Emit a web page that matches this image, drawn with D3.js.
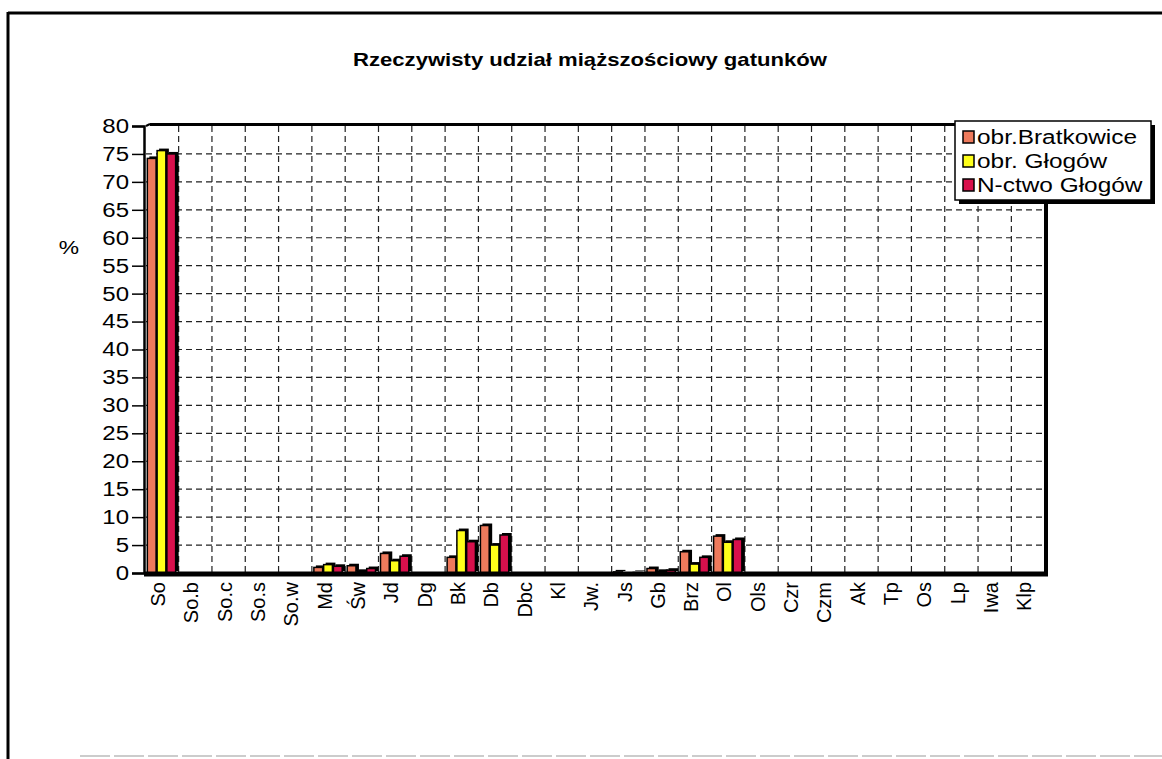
<!DOCTYPE html>
<html>
<head>
<meta charset="utf-8">
<script src="https://cdn.jsdelivr.net/npm/d3@7"></script>
<style>
  body { margin: 0; background: #fff; }
  text { font-family: "Liberation Sans", Arial, sans-serif; fill: #000; }
</style>
</head>
<body>
<script>
const width = 1162;
const height = 759;

const categories = ["So", "So.b", "So.c", "So.s", "So.w", "Md", "Św", "Jd", "Dg", "Bk", "Db", "Dbc",
    "Kl", "Jw.", "Js", "Gb", "Brz", "Ol", "Ols", "Czr", "Czm", "Ak", "Tp", "Os", "Lp", "Iwa", "Klp"];

const seriesNames = ["obr.Bratkowice", "obr. Głogów", "N-ctwo Głogów"];
const seriesColors = ["#ee7a5c", "#ffff1a", "#d8104c"];

const bratkowice = [74.2, 0, 0, 0, 0, 1.0, 1.3, 3.5, 0, 2.8, 8.5, 0, 0, 0, 0.2, 0.8, 3.8, 6.6, 0, 0, 0, 0, 0, 0, 0, 0, 0];
const glogow     = [75.6, 0, 0, 0, 0, 1.5, 0.3, 2.2, 0, 7.6, 5.0, 0, 0, 0, 0, 0.3, 1.6, 5.5, 0, 0, 0, 0, 0, 0, 0, 0, 0];
const nadlesn    = [75.0, 0, 0, 0, 0, 1.2, 0.8, 3.0, 0, 5.6, 6.8, 0, 0, 0, 0.1, 0.5, 2.8, 6.0, 0, 0, 0, 0, 0, 0, 0, 0, 0];
const series = [bratkowice, glogow, nadlesn];

const yTicks = d3.range(0, 81, 5);

const plot = { left: 146, right: 1044, top: 126, bottom: 573 };

// scanned original is a bit stretched sideways, so widen the text to match
function stretch(sel, k) {
    sel.each(function() {
        const len = this.getComputedTextLength();
        d3.select(this).attr("textLength", len * k).attr("lengthAdjust", "spacingAndGlyphs");
    });
}

const svg = d3.select("body").append("svg")
    .attr("width", width)
    .attr("height", height);

// outer frame
svg.append("line").attr("x1", 8).attr("y1", 13).attr("x2", width).attr("y2", 13)
    .attr("stroke", "#000").attr("stroke-width", 3);
svg.append("line").attr("x1", 8).attr("y1", 12).attr("x2", 8).attr("y2", height)
    .attr("stroke", "#000").attr("stroke-width", 3);
svg.append("line").attr("x1", 80).attr("y1", 756).attr("x2", width).attr("y2", 756)
    .attr("stroke", "#ccc").attr("stroke-width", 2).attr("stroke-dasharray", "30,4");

svg.append("text")
    .attr("x", 590).attr("y", 66)
    .attr("text-anchor", "middle")
    .attr("font-size", 19).attr("font-weight", "bold")
    .attr("textLength", 474).attr("lengthAdjust", "spacingAndGlyphs")
    .text("Rzeczywisty udział miąższościowy gatunków");

const x = d3.scaleBand()
    .domain(categories)
    .range([plot.left, plot.right])
    .paddingInner(0.12)
    .paddingOuter(0.04);

const xs = d3.scaleBand()
    .domain(d3.range(series.length))
    .range([0, x.bandwidth()])
    .padding(0);

const y = d3.scaleLinear()
    .domain([0, 80])
    .range([plot.bottom, plot.top]);

// plot background shadow (3D look)
svg.append("rect")
    .attr("x", plot.left + 4).attr("y", plot.top - 2)
    .attr("width", plot.right - plot.left).attr("height", plot.bottom - plot.top + 5)
    .attr("fill", "#000");
svg.append("rect")
    .attr("x", plot.left).attr("y", plot.top)
    .attr("width", plot.right - plot.left).attr("height", plot.bottom - plot.top)
    .attr("fill", "#fff");
svg.append("line")
    .attr("x1", plot.left + 4).attr("y1", plot.top - 2).attr("x2", plot.right + 2).attr("y2", plot.top - 2)
    .attr("stroke", "#000").attr("stroke-width", 2);
svg.append("line")
    .attr("x1", plot.left).attr("y1", plot.top).attr("x2", plot.left + 4).attr("y2", plot.top - 2)
    .attr("stroke", "#000").attr("stroke-width", 2);

// grid
const grid = svg.append("g")
    .attr("stroke", "#222").attr("stroke-width", 1.2).attr("stroke-dasharray", "6,4");
grid.selectAll("line.h")
    .data(yTicks.filter(d => d > 0 && d < 80))
    .enter().append("line")
    .attr("class", "h")
    .attr("x1", plot.left).attr("x2", plot.right)
    .attr("y1", d => y(d)).attr("y2", d => y(d));
grid.selectAll("line.v")
    .data(categories.slice(1))
    .enter().append("line")
    .attr("class", "v")
    .attr("x1", d => x(d) - x.step() * x.paddingInner() / 2)
    .attr("x2", d => x(d) - x.step() * x.paddingInner() / 2)
    .attr("y1", plot.top).attr("y2", plot.bottom);

// bars
const groups = svg.append("g")
    .selectAll("g")
    .data(categories)
    .enter().append("g")
    .attr("transform", d => `translate(${x(d)},0)`);

groups.each(function(cat, i) {
    const g = d3.select(this);
    series.forEach((s, k) => {
        const v = s[i];
        if (v <= 0) return;
        g.append("rect")
            .attr("x", xs(k) + 2).attr("y", y(v) - 2)
            .attr("width", xs.bandwidth()).attr("height", y(0) - y(v))
            .attr("fill", "#000");
    });
    series.forEach((s, k) => {
        const v = s[i];
        if (v <= 0) return;
        g.append("rect")
            .attr("x", xs(k)).attr("y", y(v))
            .attr("width", xs.bandwidth() - 1).attr("height", y(0) - y(v))
            .attr("fill", seriesColors[k])
            .attr("stroke", "#000").attr("stroke-width", 1.5);
    });
});

// floor
svg.append("line")
    .attr("x1", plot.left - 2).attr("x2", plot.right + 4)
    .attr("y1", plot.bottom + 1).attr("y2", plot.bottom + 1)
    .attr("stroke", "#000").attr("stroke-width", 5);
svg.append("line")
    .attr("x1", plot.right + 2).attr("x2", plot.right + 2)
    .attr("y1", plot.top - 2).attr("y2", plot.bottom)
    .attr("stroke", "#000").attr("stroke-width", 3);

// y axis
const yAxis = svg.append("g")
    .attr("transform", `translate(${plot.left - 2},0)`)
    .call(d3.axisLeft(y).tickValues(yTicks).tickSize(12).tickPadding(3));
yAxis.select(".domain").attr("stroke-width", 2.5);
yAxis.selectAll(".tick line").attr("stroke-width", 1.5);
yAxis.selectAll("text")
    .attr("font-size", 20)
    .attr("font-family", "Liberation Sans, Arial, sans-serif")
    .call(stretch, 1.2);

svg.append("text")
    .attr("x", 69).attr("y", 254)
    .attr("font-size", 19)
    .attr("text-anchor", "middle")
    .text("%")
    .call(stretch, 1.2);

// x labels
svg.append("g")
    .selectAll("text")
    .data(categories)
    .enter().append("text")
    .attr("transform", d => `translate(${x(d) + x.bandwidth() / 2 - 4},${plot.bottom + 9}) rotate(-90)`)
    .attr("text-anchor", "end")
    .attr("dy", "0.36em")
    .attr("font-size", 20)
    .text(d => d);

// legend
const legend = svg.append("g").attr("transform", "translate(955,121)");
legend.append("rect")
    .attr("x", 4).attr("y", 4).attr("width", 196).attr("height", 79)
    .attr("fill", "#000");
legend.append("rect")
    .attr("x", 0).attr("y", 0).attr("width", 196).attr("height", 79)
    .attr("fill", "#fff").attr("stroke", "#000").attr("stroke-width", 1.5);
const items = legend.selectAll("g.item")
    .data(seriesNames)
    .enter().append("g")
    .attr("class", "item")
    .attr("transform", (d, i) => `translate(8,${16 + i * 24})`);
items.append("rect")
    .attr("x", 0).attr("y", -6).attr("width", 11).attr("height", 12)
    .attr("fill", (d, i) => seriesColors[i])
    .attr("stroke", "#000").attr("stroke-width", 1.5);
items.append("text")
    .attr("x", 14).attr("dy", "0.36em")
    .attr("font-size", 20)
    .text(d => d)
    .call(stretch, 1.22);
</script>
</body>
</html>
